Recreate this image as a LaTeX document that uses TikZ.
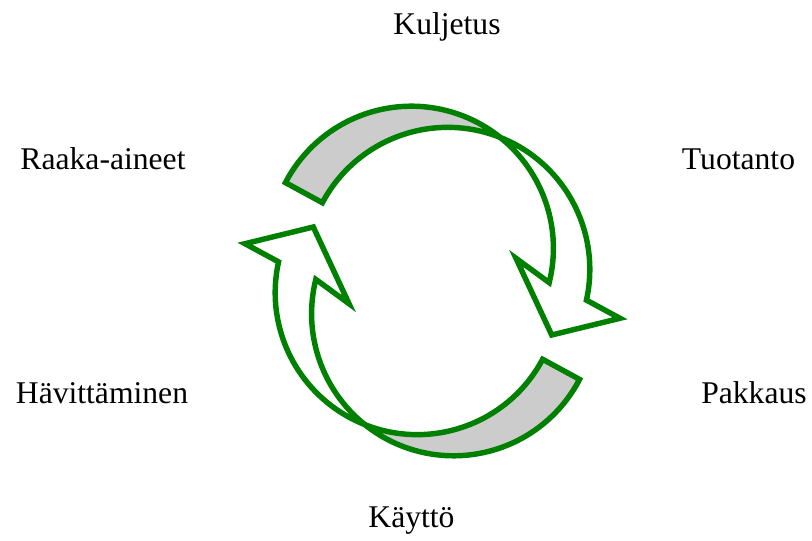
\documentclass[tikz,border=0pt]{standalone}
\usepackage{fontspec}
\setmainfont{Liberation Serif}
\usepackage{xcolor}
\usepackage{tikz}
\usetikzlibrary{positioning}
\definecolor{greenline}{HTML}{008000}
\definecolor{grayback}{HTML}{CCCCCC}
\tikzset{every node/.append style={font=\fontsize{18}{22}\selectfont},
  band/.style={draw=greenline,line width=3.1pt,line join=miter}}

\begin{document}
\begin{tikzpicture}[x=0.02cm,y=0.02cm]
  \useasboundingbox (0,0) rectangle (812,541);
  \foreach \r in {0,180}{
    \begin{scope}[rotate around={\r:(432.5,260)}]
      \coordinate (x) at (500.3,403.55);
      \coordinate (gb) at (322.4,338.3);
      \coordinate (ob) at (620,222.7);
      \coordinate (tip) at (551.7,206);
      \coordinate (ib) at (516,282.7);
      \coordinate (in) at (549.2,258.4);
      \filldraw[band,fill=grayback] (x) arc[start angle=51.25,end angle=152.5,radius=142]
        -- (gb) arc[start angle=152,end angle=68.3,radius=142] -- cycle;
      \filldraw[band,fill=white] (x) arc[start angle=68.3,end angle=-12.5,radius=142]
        -- (ob) -- (tip) -- (ib) -- (in) arc[start angle=-14,end angle=51.25,radius=142] -- cycle;
    \end{scope}
  }
  \node[anchor=base] (kul) at (447,506) {Kuljetus};
  \node[anchor=base] (tuo) at (738.5,371) {Tuotanto};
  \node[anchor=base] (pak) at (754,137) {Pakkaus};
  \node[anchor=base] (kay) at (411.5,13) {Käyttö};
  \node[anchor=base] (hav) at (102,137) {Hävittäminen};
  \node[anchor=base] (raa) at (103,371) {Raaka-aineet};
\end{tikzpicture}
\end{document}
